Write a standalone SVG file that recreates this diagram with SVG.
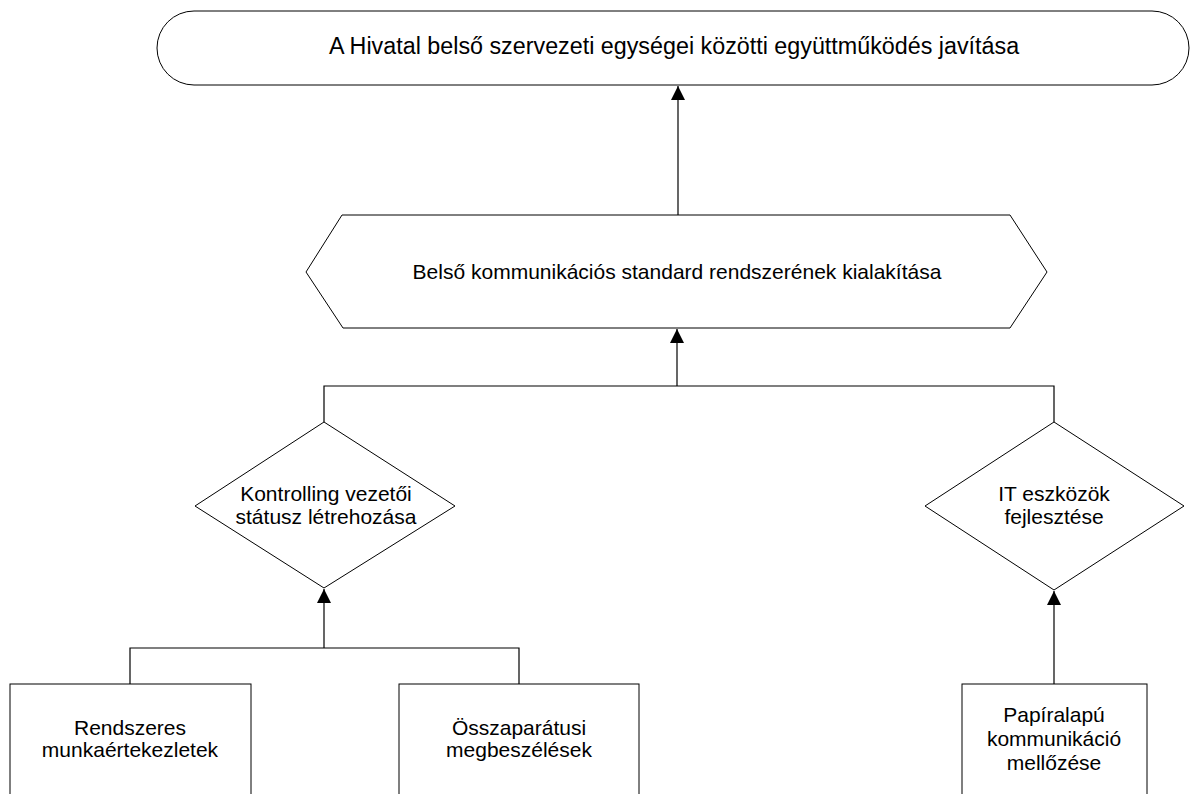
<svg xmlns="http://www.w3.org/2000/svg" width="1192" height="794" viewBox="0 0 1192 794">
  <style>
    .shape { fill: #fff; stroke: #000; stroke-width: 1; }
    .line { fill: none; stroke: #000; stroke-width: 1.2; }
    .label { font-family: "Liberation Sans", Arial, sans-serif; font-size: 21px; fill: #000; text-anchor: middle; }
    .big { font-size: 23.3px; }
  </style>
  <defs>
    <marker id="head" markerUnits="userSpaceOnUse" markerWidth="14" markerHeight="14" viewBox="0 0 14 14" refX="14" refY="7" orient="auto">
      <path d="M0 0 L14 7 L0 14 Z" fill="#000"/>
    </marker>
  </defs>

  <!-- connectors -->
  <g id="connectors">
    <path class="line" d="M678 215 V86" marker-end="url(#head)"/>
    <path class="line" d="M324 422 V386 H1054 V422"/>
    <path class="line" d="M677 386 V329" marker-end="url(#head)"/>
    <path class="line" d="M130 684 V648 H519 V684"/>
    <path class="line" d="M324 648 V589" marker-end="url(#head)"/>
    <path class="line" d="M1054 684 V591" marker-end="url(#head)"/>
  </g>

  <!-- goal -->
  <g id="goal">
    <rect class="shape" x="157" y="11" width="1032" height="74" rx="37" ry="37"/>
    <text class="label big" x="674" y="54">A Hivatal belső szervezeti egységei közötti együttműködés javítása</text>
  </g>

  <!-- strategy -->
  <g id="strategy">
    <polygon class="shape" points="342,215 1010,215 1047,272 1010,328 343,328 306,272"/>
    <text class="label" x="677" y="279">Belső kommunikációs standard rendszerének kialakítása</text>
  </g>

  <!-- sub-goals -->
  <g id="controlling">
    <polygon class="shape" points="324,422 455,506 324,588 195,506"/>
    <text class="label" x="326" y="501">Kontrolling vezetői</text>
    <text class="label" x="326" y="524">státusz létrehozása</text>
  </g>

  <g id="it-tools">
    <polygon class="shape" points="1054,422 1184,506 1054,590 925,506"/>
    <text class="label" x="1054" y="501">IT eszközök</text>
    <text class="label" x="1054" y="524">fejlesztése</text>
  </g>

  <!-- actions -->
  <g id="meetings">
    <rect class="shape" x="10" y="684" width="241" height="130"/>
    <text class="label" x="130" y="735">Rendszeres</text>
    <text class="label" x="130" y="757">munkaértekezletek</text>
  </g>

  <g id="all-staff">
    <rect class="shape" x="399" y="684" width="240" height="130"/>
    <text class="label" x="519" y="735">Összaparátusi</text>
    <text class="label" x="519" y="757">megbeszélések</text>
  </g>

  <g id="paperless">
    <rect class="shape" x="962" y="684" width="185" height="130"/>
    <text class="label" x="1054" y="722">Papíralapú</text>
    <text class="label" x="1054" y="746">kommunikáció</text>
    <text class="label" x="1054" y="770">mellőzése</text>
  </g>
</svg>
